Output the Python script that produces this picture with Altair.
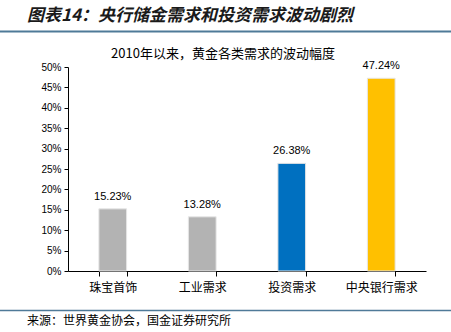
import altair as alt
import pandas as pd

categories = ["珠宝首饰", "工业需求", "投资需求", "中央银行需求"]
values = [0.1523, 0.1328, 0.2638, 0.4724]
colors = ["#B3B3B3", "#B3B3B3", "#0070C0", "#FFC000"]
labels = ["15.23%", "13.28%", "26.38%", "47.24%"]
y_ticks = [0.0, 0.05, 0.10, 0.15, 0.20, 0.25, 0.30, 0.35, 0.40, 0.45, 0.50]

df = pd.DataFrame({"cat": categories, "val": values, "color": colors, "label": labels})

W, H = 358, 204
PL, PT = 68, 67

x = alt.X("cat:N", sort=categories, title=None,
          scale=alt.Scale(paddingInner=0.69, paddingOuter=0.345),
          axis=alt.Axis(labelAngle=0, labelFont="Noto Sans CJK SC", labelFontSize=12,
                        labelColor="#000", labelPadding=6, tickBand="extent",
                        tickSize=5, tickColor="#000", domainColor="#000", grid=False))
y = alt.Y("val:Q", title=None,
          scale=alt.Scale(domain=[0, 0.5], nice=False),
          axis=alt.Axis(format=".0%", values=y_ticks,
                        labelOverlap=False, labelFlush=False,
                        labelFont="Liberation Sans", labelFontSize=10, labelColor="#000",
                        tickSize=4, tickColor="#000", domainColor="#000", grid=False,
                        labelPadding=3))

bars = alt.Chart(df).mark_bar(stroke="#E6E6E6", strokeWidth=1).encode(
    x=x, y=y, color=alt.Color("color:N", scale=None))

text = alt.Chart(df).mark_text(dy=-12, font="Liberation Sans", fontSize=11, color="#000").encode(
    x=x, y=y, text="label:N")

anno = pd.DataFrame({"a": [0]})
header = alt.Chart(anno).mark_text(
    text="图表14：央行储金需求和投资需求波动剧烈", font="Noto Sans CJK SC", fontSize=17,
    fontWeight="bold", fontStyle="italic", align="left", baseline="middle", color="#1A1A1A"
).encode(x=alt.value(27 - PL), y=alt.value(16 - PT))
topline = alt.Chart(anno).mark_rule(color="#4F7A98", strokeWidth=2).encode(
    x=alt.value(-PL), x2=alt.value(451 - PL), y=alt.value(31.5 - PT))
subtitle = alt.Chart(anno).mark_text(
    text="2010年以来，黄金各类需求的波动幅度", font="Noto Sans CJK SC", fontSize=13,
    align="center", baseline="middle", color="#000"
).encode(x=alt.value(223 - PL), y=alt.value(54 - PT))
botline = alt.Chart(anno).mark_rule(color="#4F7A98", strokeWidth=1.5).encode(
    x=alt.value(-PL), x2=alt.value(451 - PL), y=alt.value(310.5 - PT))
footer = alt.Chart(anno).mark_text(
    text="来源：世界黄金协会，国金证券研究所", font="Noto Sans CJK SC", fontSize=12,
    align="left", baseline="middle", color="#000"
).encode(x=alt.value(27 - PL), y=alt.value(321 - PT))

chart = alt.layer(bars, text, header, topline, subtitle, botline, footer).properties(
    width=W, height=H,
    autosize=alt.AutoSizeParams(type="none"),
    padding={"left": PL, "top": PT, "right": 451 - PL - W, "bottom": 332 - PT - H},
    background="white",
).configure_view(stroke=None)

chart.save("out.html", embed_options={"renderer": "svg", "actions": False})
